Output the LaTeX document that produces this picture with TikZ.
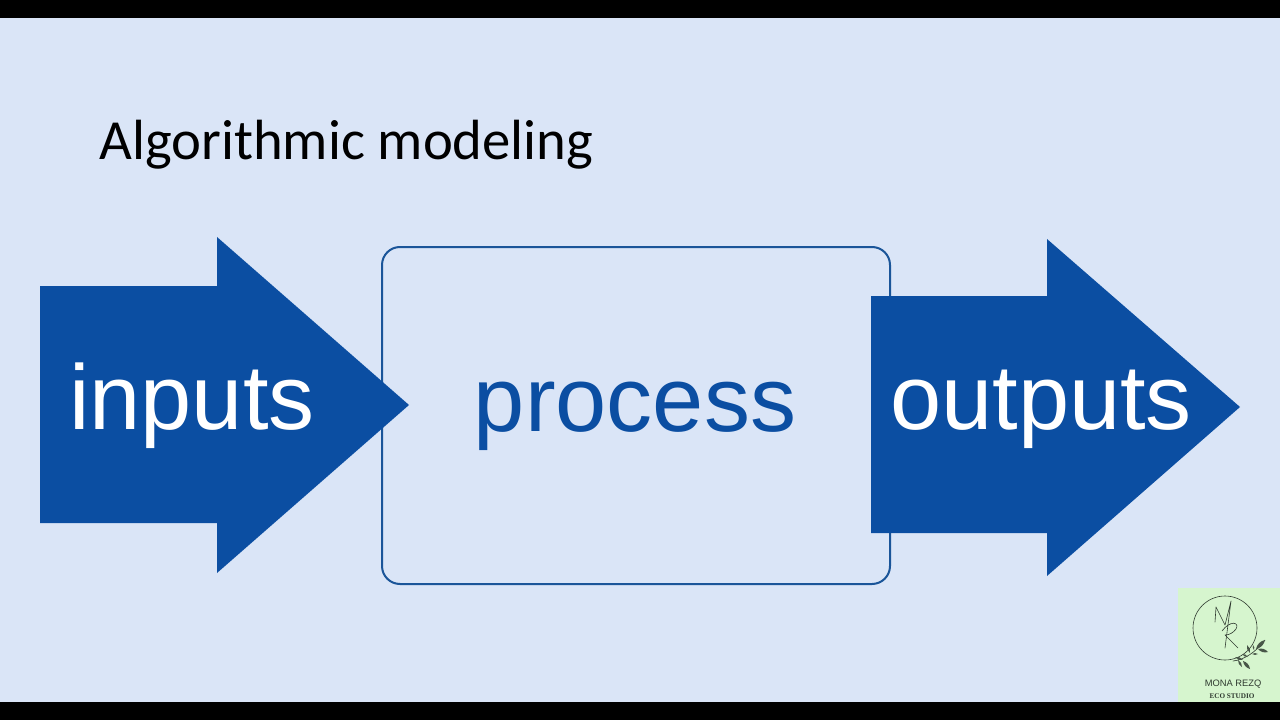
\documentclass[tikz,border=0pt]{standalone}
\usepackage{fontspec}
\setmainfont{Liberation Sans}
\newfontfamily\titlefont{Carlito}
\newfontfamily\logoserif{Liberation Serif}
\definecolor{bgblue}{HTML}{DAE5F7}
\definecolor{arrowblue}{HTML}{0B4EA2}
\definecolor{boxline}{HTML}{1A5599}
\definecolor{logogreen}{HTML}{D6F5CE}
\definecolor{logoink}{HTML}{2F3A30}
\tikzset{
  x=0.75pt,y=-0.75pt,
  bigarrow/.style={fill=arrowblue,draw=none},
  biglabel/.style={font=\fontsize{69}{69}\selectfont,inner sep=0pt,anchor=base},
  procbox/.style={draw=boxline,line width=1.5pt,rounded corners=13.5pt},
  logoline/.style={draw=logoink,line width=0.45pt,line cap=round,line join=round},
  leaf/.style={fill=logoink!85!logogreen,draw=none}
}
\begin{document}
\begin{tikzpicture}
\useasboundingbox (0,0) rectangle (1280,720);
\fill[black] (0,0) rectangle (1280,720);
\fill[bgblue] (0,18) rectangle (1280,702);
\node[font=\titlefont\fontsize{42.5}{42.5}\selectfont,inner sep=0pt,anchor=base west,text=black] (title) at (99,160) {Algorithmic modeling};
\draw[procbox] (382,247) rectangle (890,584);
\node[biglabel,text=arrowblue] (process) at (635,431) {process};
\fill[bigarrow] (40,286) -- (217,286) -- (217,237) -- (409,405) -- (217,573) -- (217,523) -- (40,523) -- cycle;
\node[biglabel,text=white] (inputs) at (192,429) {inputs};
\fill[bigarrow] (871,296) -- (1047,296) -- (1047,239) -- (1240,407) -- (1047,576) -- (1047,533) -- (871,533) -- cycle;
\node[biglabel,text=white] (outputs) at (1041,429) {outputs};
\fill[logogreen] (1178,588) rectangle (1280,702);
\draw[logoline] (1225,628) circle (32);
\draw[logoline] (1215,622) -- (1216,607) -- (1225,625) -- (1231,601) -- (1225,648);
\draw[logoline] (1222,631) .. controls (1230,620) and (1240,622) .. (1236,629) .. controls (1233,633) and (1229,635) .. (1225,635) -- (1238,648);
\draw[logoline] (1233,661) .. controls (1244,660) and (1256,652) .. (1265,640);
\foreach \ax/\ay/\bx/\by in {1243/660/1235/657, 1248/657/1242/654, 1250/653/1247/645, 1254/650/1253/645, 1256/649/1265/640, 1258/649/1268/652, 1252/654/1258/654, 1243/661/1250/669, 1238/660/1242/667}{
  \fill[leaf] (\ax,\ay) to[bend left=32] (\bx,\by) to[bend left=32] (\ax,\ay);
}
\node[font=\fontsize{7}{7}\selectfont,text=logoink,inner sep=0pt] (logoname) at (1233,684) {MONA REZQ};
\node[font=\logoserif\fontsize{5.4}{5.4}\selectfont\bfseries,text=logoink,inner sep=0pt] (logosub) at (1232,696) {ECO STUDIO};
\end{tikzpicture}
\end{document}
